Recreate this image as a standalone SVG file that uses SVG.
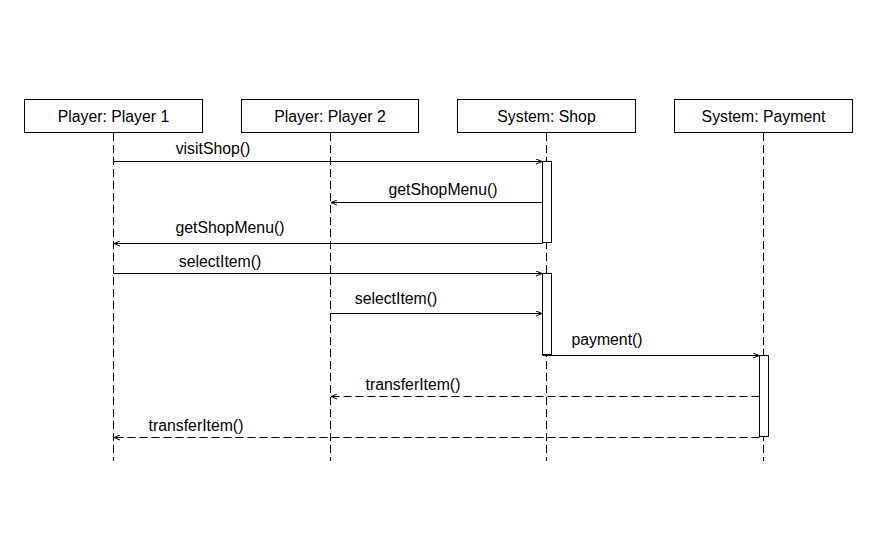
<svg xmlns="http://www.w3.org/2000/svg" width="895" height="555" viewBox="0 0 895 555">
<style>
.box{fill:#fff;stroke:#000;stroke-width:1}
.t{font-family:"Liberation Sans",Arial,sans-serif;font-size:15.8px;fill:#000}
.c{text-anchor:middle}
.life{stroke:#000;stroke-width:1;stroke-dasharray:8,4;fill:none}
.msg{stroke:#000;stroke-width:1;fill:none}
.ret{stroke:#000;stroke-width:1;fill:none;stroke-dasharray:8,4}
.act{fill:#fff;stroke:#000;stroke-width:1}
</style>
<defs>
<marker id="ah" markerWidth="8" markerHeight="6" refX="6" refY="3" orient="auto" markerUnits="userSpaceOnUse">
<path d="M0,0.5 L6,3 L0,5.5" fill="none" stroke="#000" stroke-width="1"/>
</marker>
</defs>
<rect width="895" height="555" fill="#fff"/>
<g id="lifelines">
<line class="life" x1="113.5" y1="133" x2="113.5" y2="461"/>
<line class="life" x1="330.5" y1="133" x2="330.5" y2="461"/>
<line class="life" x1="546.5" y1="133" x2="546.5" y2="461"/>
<line class="life" x1="763.5" y1="133" x2="763.5" y2="461"/>
</g>
<g id="player1"><rect class="box" x="24.5" y="99.5" width="178" height="33"/><text class="t c" x="113.5" y="122">Player: Player 1</text></g>
<g id="player2"><rect class="box" x="241.5" y="99.5" width="177" height="33"/><text class="t c" x="330" y="122">Player: Player 2</text></g>
<g id="shop"><rect class="box" x="457.5" y="99.5" width="178" height="33"/><text class="t c" x="546.5" y="122">System: Shop</text></g>
<g id="payment"><rect class="box" x="674.5" y="99.5" width="178" height="33"/><text class="t c" x="763.5" y="122">System: Payment</text></g>
<g id="activations">
<rect class="act" x="542.5" y="161.5" width="9" height="81"/>
<rect class="act" x="542.5" y="273.5" width="9" height="81"/>
<rect class="act" x="759.5" y="355.5" width="9" height="81"/>
</g>
<g id="connectors">
<line class="msg" x1="113.5" y1="161.5" x2="542" y2="161.5" marker-end="url(#ah)"/>
<line class="msg" x1="542.5" y1="202.5" x2="331" y2="202.5" marker-end="url(#ah)"/>
<line class="msg" x1="542.5" y1="243.5" x2="114" y2="243.5" marker-end="url(#ah)"/>
<line class="msg" x1="113.5" y1="273.5" x2="542" y2="273.5" marker-end="url(#ah)"/>
<line class="msg" x1="330.5" y1="313.5" x2="542" y2="313.5" marker-end="url(#ah)"/>
<line class="msg" x1="542.5" y1="355.5" x2="759" y2="355.5" marker-end="url(#ah)"/>
<line class="ret" x1="759.5" y1="396.5" x2="331" y2="396.5" marker-end="url(#ah)"/>
<line class="ret" x1="759.5" y1="437.5" x2="114" y2="437.5" marker-end="url(#ah)"/>
</g>
<g id="labels">
<text class="t c" x="213" y="154">visitShop()</text>
<text class="t c" x="443" y="195">getShopMenu()</text>
<text class="t c" x="230" y="233">getShopMenu()</text>
<text class="t c" x="220" y="267">selectItem()</text>
<text class="t c" x="396" y="304">selectItem()</text>
<text class="t c" x="607" y="345">payment()</text>
<text class="t c" x="413" y="390">transferItem()</text>
<text class="t c" x="196" y="431">transferItem()</text>
</g>
</svg>
